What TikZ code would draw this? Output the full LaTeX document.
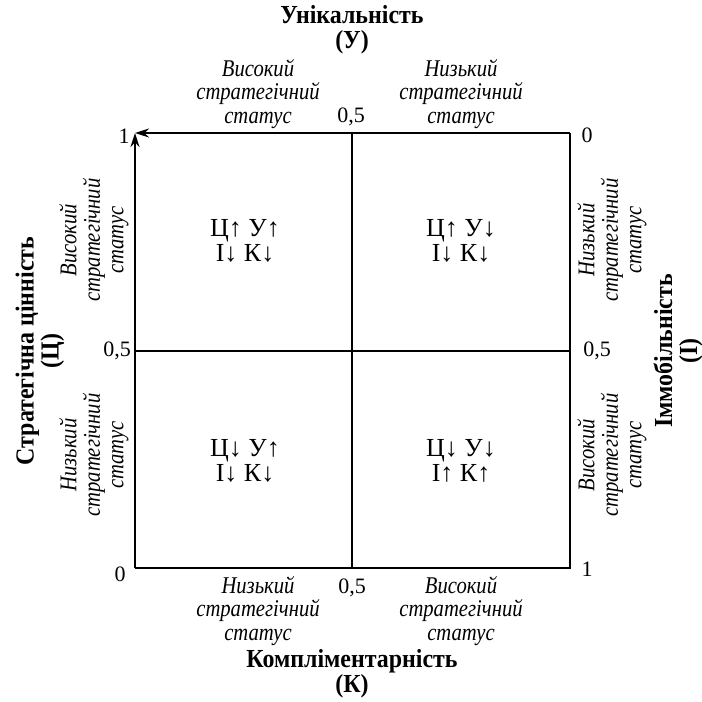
\documentclass[tikz,border=0pt]{standalone}
\usepackage{fontspec}
\setmainfont{Liberation Serif}
\newfontfamily\labfont[FakeStretch=0.86]{Liberation Serif}
\newfontfamily\ttlfont[FakeStretch=0.92]{Liberation Serif}
\usetikzlibrary{arrows.meta}
\begin{document}
\begin{tikzpicture}[x=1pt,y=-1pt, line width=1.6pt,
 lab/.style={font=\fontsize{24}{23.5}\labfont\itshape, align=center, inner sep=0pt},
 ttl/.style={font=\fontsize{26}{25}\ttlfont\bfseries, align=center, inner sep=0pt},
 num/.style={font=\fontsize{22}{24}\selectfont, inner sep=0pt},
 cell/.style={font=\fontsize{26}{25}\selectfont, align=center, inner sep=0pt},
 tip/.style={-{Stealth[length=14pt,width=9pt]}}]
\useasboundingbox (0,0) rectangle (702,702);
% corners
\coordinate (tl) at (135,133);
\coordinate (tr) at (570,133);
\coordinate (bl) at (135,568);
\coordinate (br) at (570,568);
\coordinate (tm) at (352,133);
\coordinate (bm) at (352,568);
\coordinate (lm) at (135,351);
\coordinate (rm) at (570,351);
% frame
\draw[tip] (tr) -- (tl);
\draw[tip] (bl) -- (tl);
\draw (tr) -- (br) -- (bl);
\draw (tm) -- (bm);
\draw (lm) -- (rm);
% titles
\node[ttl] (tU) at (352,30) {Унікальність\\(У)};
\node[ttl] (tK) at (352,674) {Компліментарність\\(К)};
\node[ttl,rotate=90] (tC) at (40,351) {Стратегічна цінність\\(Ц)};
\node[ttl,rotate=90] (tI) at (678,351) {Іммобільність\\(І)};
% status labels
\node[lab] (a1) at (258,94) {Високий\\стратегічний\\статус};
\node[lab] (a2) at (461,94) {Низький\\стратегічний\\статус};
\node[lab] (a3) at (258,611) {Низький\\стратегічний\\статус};
\node[lab] (a4) at (461,611) {Високий\\стратегічний\\статус};
\node[lab,rotate=90] (a5) at (94,240) {Високий\\стратегічний\\статус};
\node[lab,rotate=90] (a6) at (94,455) {Низький\\стратегічний\\статус};
\node[lab,rotate=90] (a7) at (612,240) {Низький\\стратегічний\\статус};
\node[lab,rotate=90] (a8) at (612,455) {Високий\\стратегічний\\статус};
% numbers
\node[num] (n1) at (124,136) {1};
\node[num] (n2) at (587,135) {0};
\node[num] (n3) at (120,574) {0};
\node[num] (n4) at (587,569) {1};
\node[num] (h1) at (351,117) {0,5};
\node[num] (h2) at (117,351) {0,5};
\node[num] (h3) at (597,351) {0,5};
\node[num] (h4) at (352,588) {0,5};
% cells
\node[cell] (c1) at (245,241) {Ц↑ У↑\\І↓ К↓};
\node[cell] (c2) at (461,241) {Ц↑ У↓\\І↓ К↓};
\node[cell] (c3) at (245,461) {Ц↓ У↑\\І↓ К↓};
\node[cell] (c4) at (461,461) {Ц↓ У↓\\І↑ К↑};
\end{tikzpicture}
\end{document}
